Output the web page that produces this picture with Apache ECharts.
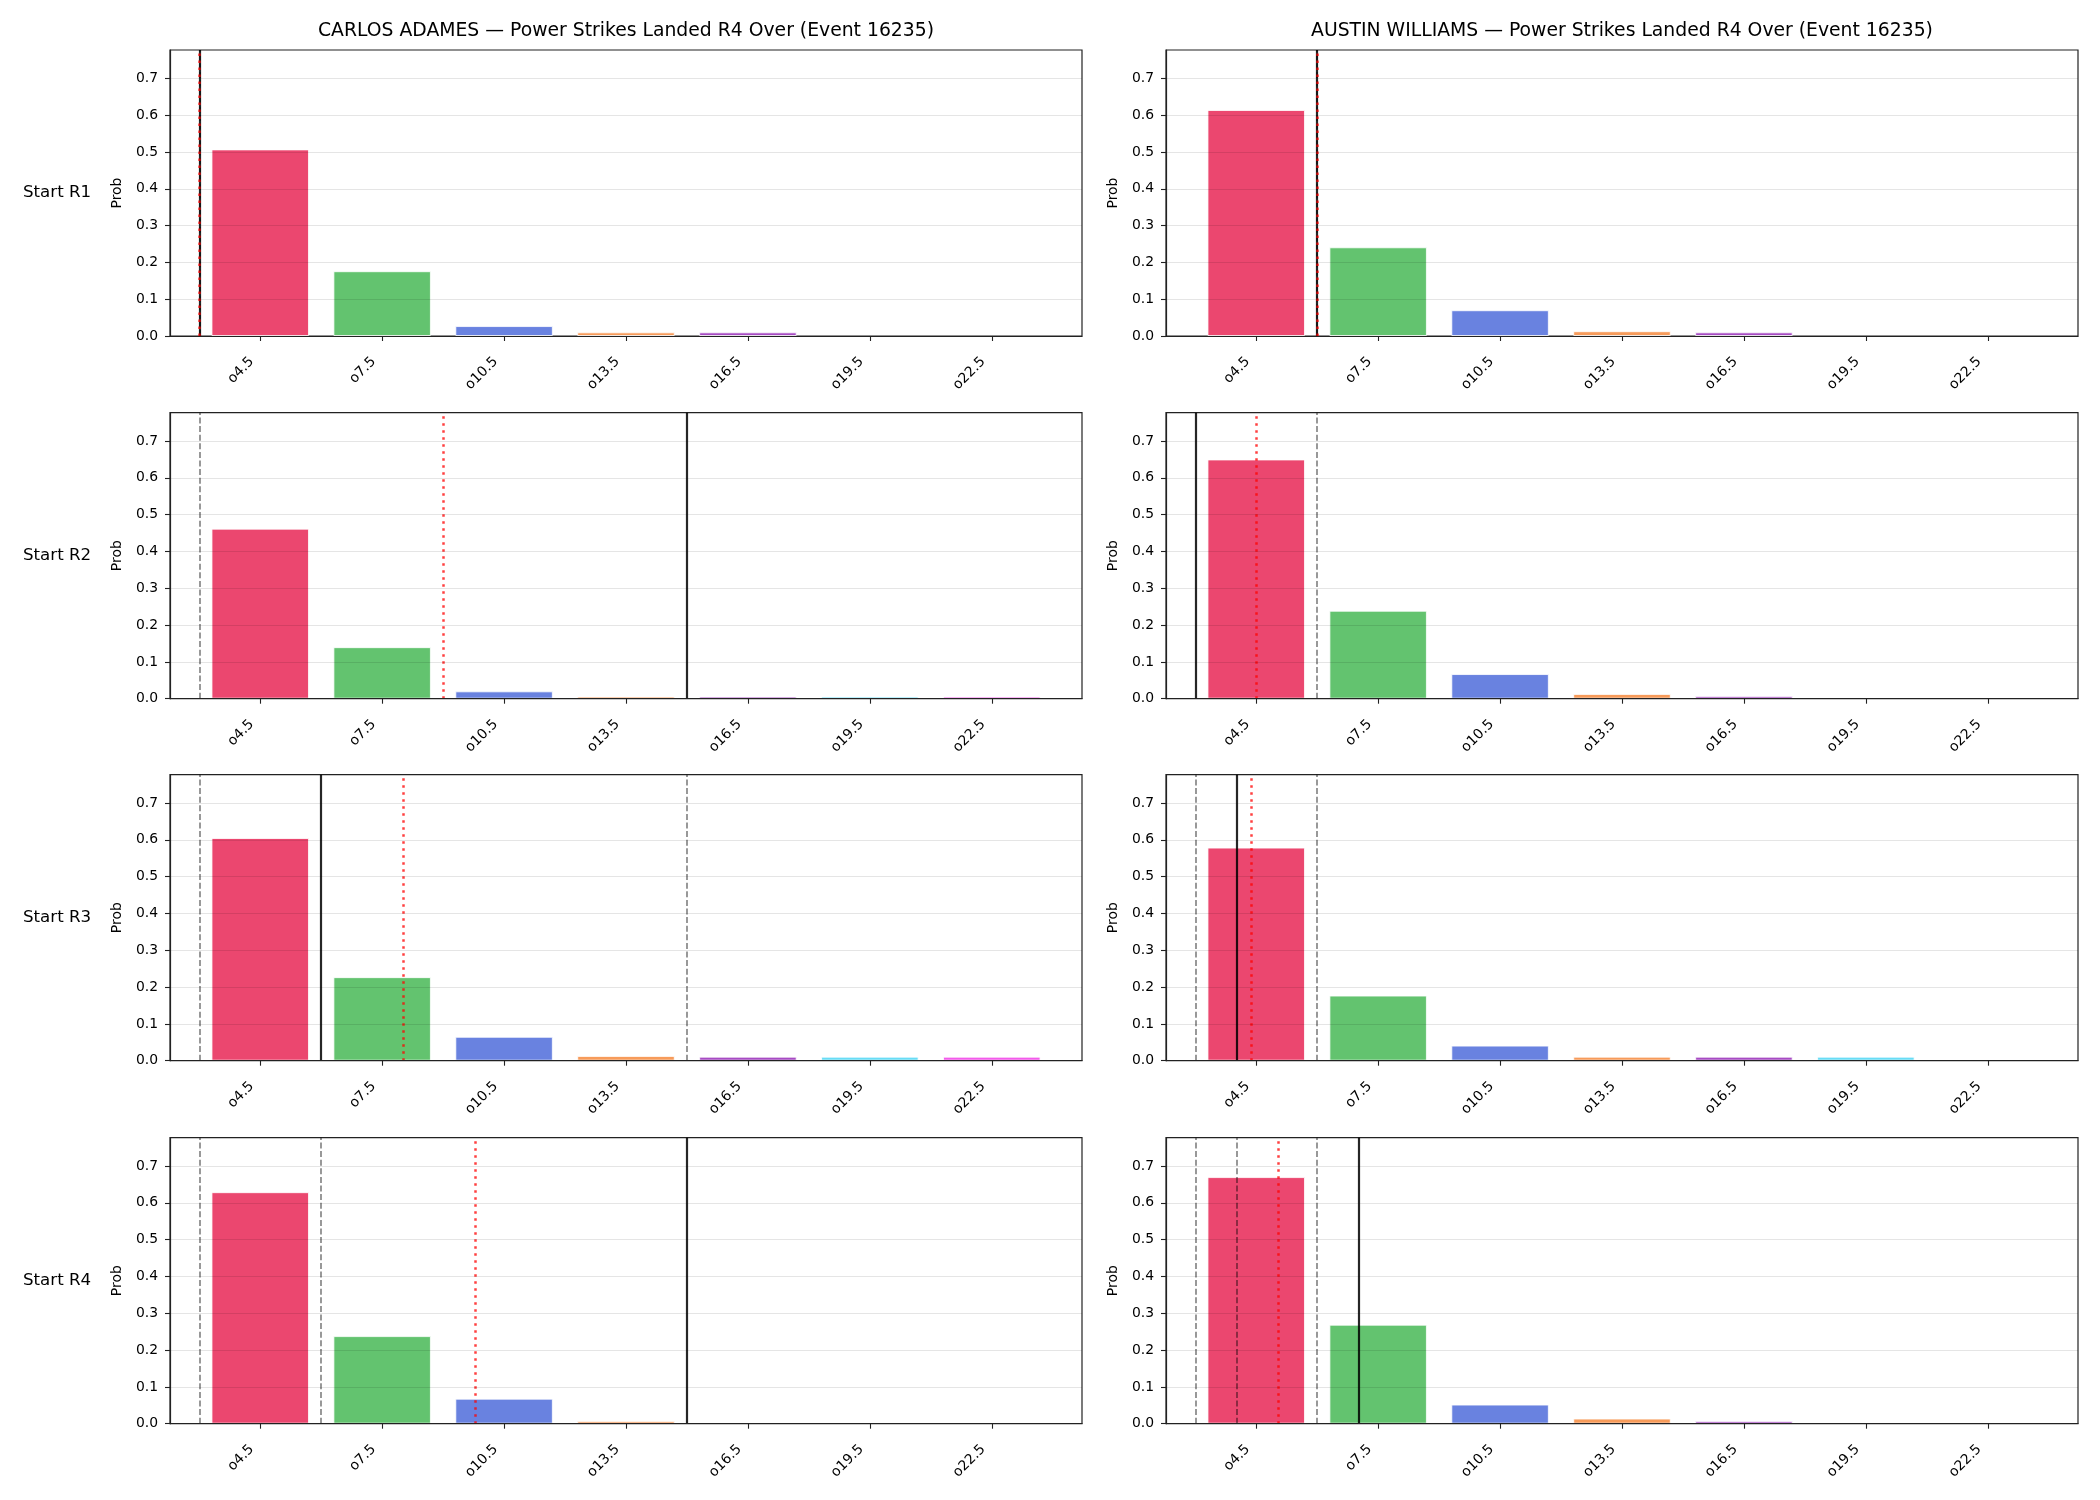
<!DOCTYPE html>
<html><head><meta charset="utf-8">
<script src="https://cdn.jsdelivr.net/npm/echarts@6/dist/echarts.min.js"></script>
<style>html,body{margin:0;padding:0;background:#fff}#c{width:2100px;height:1500px}</style>
</head><body><div id="c"></div>
<script>
const categories = ['o4.5','o7.5','o10.5','o13.5','o16.5','o19.5','o22.5'];
const fighters = ['CARLOS ADAMES','AUSTIN WILLIAMS'];
const titleSuffix = ' — Power Strikes Landed R4 Over (Event 16235)';
const rowLabels = ['Start R1','Start R2','Start R3','Start R4'];
const barColors = ['#e6194B','#3cb44b','#4363d8','#f58231','#911eb4','#42d4f4','#f032e6'];
const yTicks = [0,0.1,0.2,0.3,0.4,0.5,0.6,0.7];

// probabilities per start round
const adamesR1 = [0.507,0.176,0.027,0.010,0.010,0,0];
const adamesR2 = [0.462,0.140,0.020,0.006,0.006,0.006,0.006];
const adamesR3 = [0.605,0.227,0.065,0.013,0.011,0.011,0.011];
const adamesR4 = [0.629,0.238,0.068,0.007,0,0,0];
const williamsR1 = [0.614,0.241,0.070,0.013,0.010,0,0];
const williamsR2 = [0.650,0.239,0.067,0.013,0.007,0,0];
const williamsR3 = [0.579,0.177,0.041,0.011,0.011,0.011,0];
const williamsR4 = [0.670,0.269,0.052,0.014,0.007,0,0];

// reference line positions, in category-index units
const adamesSolid   = [[-0.5],[3.5],[0.5],[3.5]];
const adamesDotted  = [[-0.5],[1.5],[1.17],[1.76]];
const adamesDashed  = [[-0.5],[-0.5],[-0.5,3.5],[-0.5,0.5]];
const williamsSolid  = [[0.5],[-0.5],[-0.16],[0.84]];
const williamsDotted = [[0.5],[0.0],[-0.04],[0.18]];
const williamsDashed = [[0.5],[0.5],[-0.5,0.5],[-0.5,-0.16,0.5]];

const probs = [[adamesR1,adamesR2,adamesR3,adamesR4],[williamsR1,williamsR2,williamsR3,williamsR4]];
const solids = [adamesSolid, williamsSolid];
const dotteds = [adamesDotted, williamsDotted];
const dasheds = [adamesDashed, williamsDashed];

const FONT = 'DejaVu Sans';
const colLeft = [170, 1166];
const gridW = 912, gridH = 286;
const rowTop = [50, 412.7, 774.7, 1137.7];
const xIdx = categories.map((c,i)=>i);

const grids=[], xAxes=[], yAxes=[], series=[], graphics=[];
for (let col=0; col<2; col++) {
  graphics.push({type:'text', style:{x: colLeft[col]+gridW/2, y: 31, text: fighters[col]+titleSuffix,
    textAlign:'center', textVerticalAlign:'middle', font: '18.8px "'+FONT+'"', fill:'#000'}});
  for (let row=0; row<4; row++) {
    const gi = grids.length;
    grids.push({left: colLeft[col], top: rowTop[row], width: gridW, height: gridH,
      show: true, borderColor: '#222', borderWidth: 1.2, backgroundColor: 'transparent'});
    xAxes.push({gridIndex: gi, type: 'value', min: -0.74, max: 6.74, z: 10,
      axisLine: {show: true, onZero: false, lineStyle: {color: '#222', width: 1.2}},
      axisTick: {show: true, customValues: xIdx, length: 5, lineStyle: {color: '#222', width: 1.1}},
      axisLabel: {customValues: xIdx, rotate: 45, margin: 15, padding: [0, 12, 0, 0],
        fontSize: 13.9, fontFamily: FONT, color: '#000',
        formatter: v => categories[Math.round(v)]},
      splitLine: {show: false}});
    yAxes.push({gridIndex: gi, type: 'value', min: 0, max: 0.777, interval: 0.1, z: 10,
      name: 'Prob', nameLocation: 'middle', nameGap: 46, nameRotate: 90,
      nameTextStyle: {fontSize: 13.9, fontFamily: FONT, color: '#000'},
      axisLine: {show: true, onZero: false, lineStyle: {color: '#222', width: 1.2}},
      axisTick: {show: true, customValues: yTicks, length: 5, lineStyle: {color: '#222', width: 1.1}},
      axisLabel: {customValues: yTicks, margin: 12, fontSize: 13.9, fontFamily: FONT, color: '#000',
        formatter: v => v.toFixed(1)},
      splitLine: {show: true, lineStyle: {color: 'rgba(0,0,0,0.1)', width: 1}}});
    const ml = [];
    dasheds[col][row].forEach(v => ml.push({xAxis: v, lineStyle: {color: 'rgba(0,0,0,0.5)', width: 1.6, type: [6, 2.6]}}));
    solids[col][row].forEach(v => ml.push({xAxis: v, lineStyle: {color: 'rgba(0,0,0,0.85)', width: 2.2, type: 'solid'}}));
    dotteds[col][row].forEach(v => ml.push({xAxis: v, lineStyle: {color: 'rgba(255,0,0,0.75)', width: 2.5, type: [2.5, 4.5]}}));
    const data = [];
    probs[col][row].forEach((p,k) => { if (p > 0) data.push({value: [k, p], itemStyle: {color: barColors[k]}}); });
    series.push({type: 'bar', xAxisIndex: gi, yAxisIndex: gi, barWidth: '80%', data: data,
      itemStyle: {opacity: 0.8, borderColor: '#fff', borderWidth: 1},
      markLine: {silent: true, symbol: ['none','none'], label: {show: false}, animation: false, data: ml}});
    if (col === 0) {
      graphics.push({type:'text', style:{x: 23, y: rowTop[row]+gridH/2, text: rowLabels[row],
        textAlign:'left', textVerticalAlign:'middle', font: '16.67px "'+FONT+'"', fill:'#000'}});
    }
  }
}

const chart = echarts.init(document.getElementById('c'), null, {renderer: 'canvas'});
chart.setOption({backgroundColor: '#fff', animation: false, textStyle: {fontFamily: FONT},
  grid: grids, xAxis: xAxes, yAxis: yAxes, series: series, graphic: graphics});
</script></body></html>
